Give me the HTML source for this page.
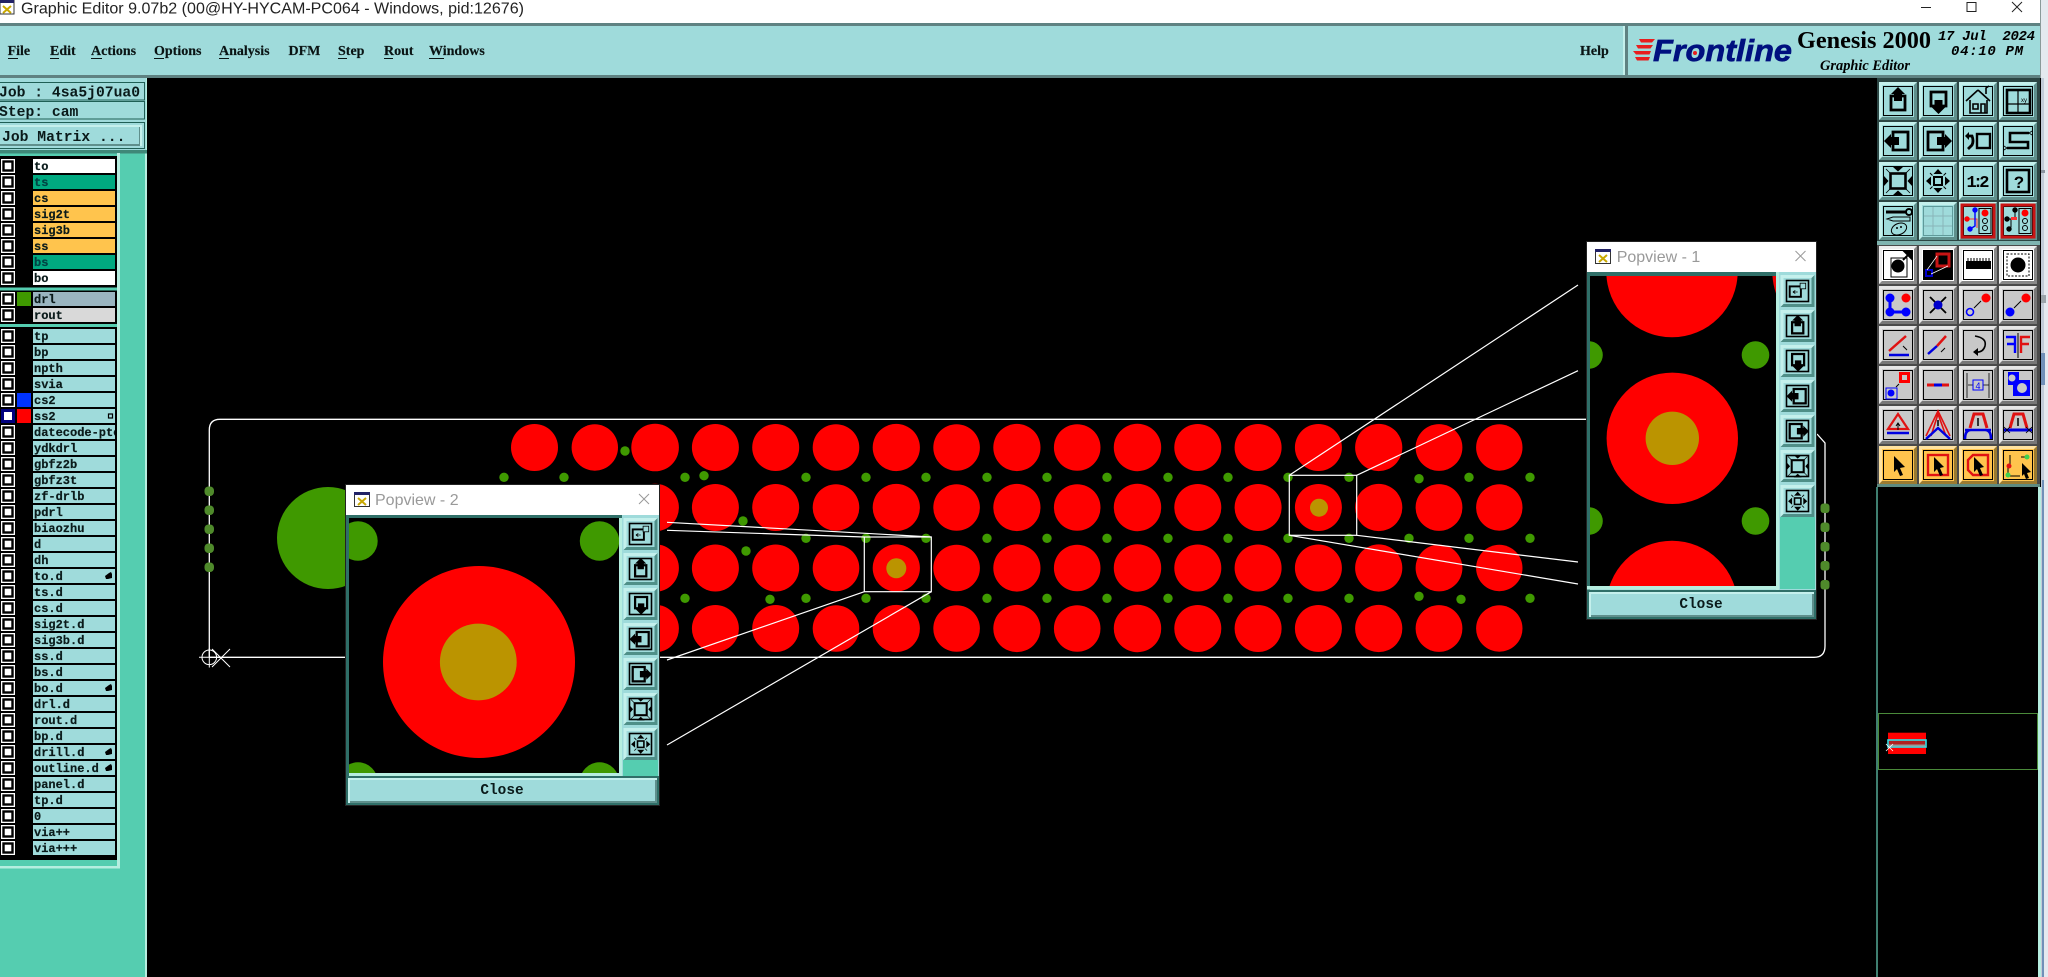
<!DOCTYPE html>
<html><head><meta charset="utf-8"><title>Graphic Editor</title>
<style>
html,body{margin:0;padding:0;background:#000;overflow:hidden}
svg{display:block}
.l{font:bold 12px "Liberation Mono",monospace;fill:#0a1a1a;stroke:#0a1a1a;stroke-width:.2}
.m{font:bold 14px "Liberation Serif",serif;fill:#0a1414;stroke:#0a1414;stroke-width:.15}
.j{font:bold 14.7px "Liberation Mono",monospace;fill:#0a1a1a}
.c{font:bold 14.4px "Liberation Mono",monospace;fill:#0a1a1a;text-anchor:middle}
.t{font:16px "Liberation Sans",sans-serif;fill:#999}
</style></head><body>
<svg xmlns="http://www.w3.org/2000/svg" width="2048" height="977" viewBox="0 0 2048 977">
<defs>
<g id="row"><rect x="1" y="0" width="14" height="14" fill="#fff"/><rect x="3.5" y="2.5" width="9" height="9" fill="#fff" stroke="#000" stroke-width="2.4"/><rect x="33" y="0" width="82" height="14" fill="#9fdbdb"/></g>
<g id="chk"><rect x="1" y="0" width="14" height="14" fill="#fff"/><rect x="3.5" y="2.5" width="9" height="9" fill="#fff" stroke="#000" stroke-width="2.4"/></g>
<g id="hand"><path d="M0 4 L4 1 L6 0 L7 2 L7 6 L3 7 L1 7Z" fill="#000"/></g>
<g id="reds" fill="#f00">
<circle cx="534.5" r="23.5"/><circle cx="594.8" r="23.2"/><circle cx="655.1" r="23.8"/><circle cx="715.4" r="23.5"/><circle cx="775.7" r="23.5"/><circle cx="836" r="23.3"/><circle cx="896.3" r="23.6"/><circle cx="956.6" r="23.3"/><circle cx="1016.9" r="23.6"/><circle cx="1077.2" r="23.3"/><circle cx="1137.5" r="23.7"/><circle cx="1197.8" r="23.5"/><circle cx="1258.1" r="23.5"/><circle cx="1318.4" r="23.5"/><circle cx="1378.7" r="23.6"/><circle cx="1439" r="23.4"/><circle cx="1499.3" r="23.2"/>
</g>
<g id="bt"><rect width="38" height="38" fill="#c4f0ec"/><path d="M38 0V38H0L3 35H35V3Z" fill="#5f8f8c"/><rect x="3" y="3" width="32" height="32" fill="#9fdbdb"/><rect x="4.5" y="4.5" width="29" height="29" fill="none" stroke="#000"/></g>
<g id="bg"><rect width="38" height="38" fill="#e6e6e6"/><path d="M38 0V38H0L3 35H35V3Z" fill="#777"/><rect x="3" y="3" width="32" height="32" fill="#c8c8c8"/><rect x="4.5" y="4.5" width="29" height="29" fill="none" stroke="#000"/></g>
<g id="bw"><rect width="38" height="38" fill="#eee"/><path d="M38 0V38H0L3 35H35V3Z" fill="#888"/><rect x="3" y="3" width="32" height="32" fill="#fff"/><rect x="4.5" y="4.5" width="29" height="29" fill="none" stroke="#000"/></g>
<g id="bo"><rect width="38" height="38" fill="#ffe2a0"/><path d="M38 0V38H0L3 35H35V3Z" fill="#9a7a30"/><rect x="3" y="3" width="32" height="32" fill="#ffc44d"/><rect x="4.5" y="4.5" width="29" height="29" fill="none" stroke="#000"/></g>
<g id="ps"><rect width="34" height="32" fill="#c4f0ec"/><path d="M34 0V32H0L3 29H31V3Z" fill="#4f8f88"/><rect x="3" y="3" width="28" height="26" fill="#9fdbdb"/><rect x="6" y="5.5" width="22" height="21" fill="none" stroke="#000" stroke-width="1.6"/></g>
<g id="iu"><path d="M12 14H26V28H12Z" fill="none" stroke="#000" stroke-width="2.8"/><path d="M19 5L26 12H23V19H15V12H12Z" fill="#000"/></g>
<g id="id"><path d="M12 10H27V24H12Z" fill="none" stroke="#000" stroke-width="2.8"/><path d="M15.5 18H23.5V25H26.5L19.5 32L12.5 25H15.5Z" fill="#000"/></g>
<g id="il"><path d="M14 10H29V28H14Z" fill="none" stroke="#000" stroke-width="2.8"/><path d="M5 19L12 12V15H20V23H12V26Z" fill="#000"/></g>
<g id="ir"><path d="M9 10H24V28H9Z" fill="none" stroke="#000" stroke-width="2.8"/><path d="M33 19L26 12V15H18V23H26V26Z" fill="#000"/></g>
<g id="ifit"><rect x="11.5" y="11.5" width="15" height="15" fill="none" stroke="#000" stroke-width="2.6"/><path d="M19 9.5L14 5H24ZM19 28.5L14 33H24ZM9.5 19L5 14V24ZM28.5 19L33 14V24Z" fill="#000"/><path d="M7 7L12 12M31 7L26 12M7 31L12 26M31 31L26 26" stroke="#000" stroke-width=".8"/></g>
<g id="ictr"><rect x="15" y="15" width="8" height="8" fill="none" stroke="#000" stroke-width="2"/><path d="M19 7L14.5 12H23.5ZM19 31L14.5 26H23.5ZM7 19L12 14.5V23.5ZM31 19L26 14.5V23.5Z" fill="#000"/><path d="M11 11L13.5 13.5M27 11L24.5 13.5M11 27L13.5 24.5M27 27L24.5 24.5" stroke="#000"/></g>
<g id="iw"><rect x="9" y="13" width="14" height="13" fill="none" stroke="#000" stroke-width="2.4"/><rect x="22" y="9" width="7" height="7" fill="#9fdbdb" stroke="#000"/><path d="M13 20H19M13 20L16 18M13 20L16 22" stroke="#000" fill="none"/></g>
</defs>

<rect width="2048" height="977" fill="#000"/>

<!-- PCB -->
<use href="#reds" y="447.5"/><use href="#reds" y="507.5"/><use href="#reds" y="568"/><use href="#reds" y="628.5"/>
<circle cx="896.3" cy="568.3" r="10" fill="#bb9400"/>
<circle cx="1319" cy="507.7" r="9" fill="#bb9400"/>
<circle cx="328" cy="538" r="51" fill="#3f9900"/>
<g fill="#3f9900">
<circle cx="504" cy="477.3" r="4.7"/><circle cx="564" cy="477.3" r="4.7"/><circle cx="625" cy="451" r="4.7"/><circle cx="685" cy="477.3" r="4.7"/><circle cx="704" cy="475.7" r="4.7"/><circle cx="806" cy="477.3" r="4.7"/><circle cx="866" cy="477.3" r="4.7"/><circle cx="926" cy="477.3" r="4.7"/><circle cx="987" cy="477.3" r="4.7"/><circle cx="1047" cy="477.3" r="4.7"/><circle cx="1107" cy="477.3" r="4.7"/><circle cx="1168" cy="477.3" r="4.7"/><circle cx="1228" cy="477.3" r="4.7"/><circle cx="1288" cy="477.3" r="4.7"/><circle cx="1349" cy="477.3" r="4.7"/><circle cx="1419" cy="478.7" r="4.7"/><circle cx="1469" cy="477.3" r="4.7"/><circle cx="1530" cy="477.3" r="4.7"/>
<circle cx="743" cy="521" r="4.7"/><circle cx="746" cy="551" r="4.7"/><circle cx="806" cy="538.3" r="4.7"/><circle cx="866" cy="538.3" r="4.7"/><circle cx="926" cy="538.3" r="4.7"/><circle cx="987" cy="538.3" r="4.7"/><circle cx="1047" cy="538.3" r="4.7"/><circle cx="1107" cy="538.3" r="4.7"/><circle cx="1168" cy="538.3" r="4.7"/><circle cx="1228" cy="538.3" r="4.7"/><circle cx="1288" cy="538.3" r="4.7"/><circle cx="1349" cy="538.3" r="4.7"/><circle cx="1409" cy="538.3" r="4.7"/><circle cx="1469" cy="538.3" r="4.7"/><circle cx="1530" cy="538.3" r="4.7"/>
<circle cx="685" cy="598.3" r="4.7"/><circle cx="770" cy="599.3" r="4.7"/><circle cx="806" cy="598.3" r="4.7"/><circle cx="866" cy="598.3" r="4.7"/><circle cx="926" cy="598.3" r="4.7"/><circle cx="987" cy="598.3" r="4.7"/><circle cx="1047" cy="598.3" r="4.7"/><circle cx="1107" cy="598.3" r="4.7"/><circle cx="1168" cy="598.3" r="4.7"/><circle cx="1228" cy="598.3" r="4.7"/><circle cx="1288" cy="598.3" r="4.7"/><circle cx="1349" cy="598.3" r="4.7"/><circle cx="1419" cy="596.3" r="4.7"/><circle cx="1461" cy="599.3" r="4.7"/><circle cx="1530" cy="598.3" r="4.7"/>
</g>
<!-- outline -->
<path d="M209.3 657.3V430Q209.3 419.3 220 419.3H1600M1817 434L1825 443V646Q1825 657.3 1814 657.3H209" fill="none" stroke="#fff" stroke-width="1.3"/>
<g fill="#4f8a2b">
<rect x="204.5" y="486.5" width="9.5" height="9.5" rx="4"/><rect x="204.5" y="505.5" width="9.5" height="9.5" rx="4"/><rect x="204.5" y="524.5" width="9.5" height="9.5" rx="4"/><rect x="204.5" y="543.5" width="9.5" height="9.5" rx="4"/><rect x="204.5" y="562.5" width="9.5" height="9.5" rx="4"/>
<rect x="1820.5" y="503.5" width="9" height="9.5" rx="3"/><rect x="1820.5" y="522.5" width="9" height="9.5" rx="3"/><rect x="1820.5" y="542" width="9" height="9.5" rx="3"/><rect x="1820.5" y="561" width="9" height="9.5" rx="3"/><rect x="1820.5" y="580" width="9" height="9.5" rx="3"/>
</g>
<!-- origin -->
<g stroke="#fff" fill="none" stroke-width="1"><circle cx="209.3" cy="657.3" r="7.3"/><path d="M199 657.3H220M209.3 648V667.5M212 649L230 667M212 667L230 649"/></g>
<!-- selections -->
<g stroke="#fff" fill="none" stroke-width="1.2">
<rect x="864.3" y="537" width="67" height="54.7"/>
<rect x="1289.3" y="475.3" width="67.4" height="60"/>
<path d="M667 522.3L931.3 537M667 530.3L864.3 537M667 660L864.3 591.7M667 745L931.3 591.7"/>
<path d="M1289.3 475.3L1578 285M1356.7 475.3L1578 370.7M1356.7 535.3L1578 562M1289.3 535.3L1578 584"/>
</g>

<!-- Title bar -->
<rect width="2048" height="23" fill="#fff"/>
<rect x="0" y="0" width="14" height="14" fill="#fff" stroke="#333"/><rect x="0" y="0" width="14" height="3" fill="#226"/><path d="M3 6L11 13M11 6L3 13" stroke="#c9a800" stroke-width="2"/>
<text x="21" y="13.5" font-family="Liberation Sans,sans-serif" font-size="16" fill="#222" textLength="503" lengthAdjust="spacingAndGlyphs">Graphic Editor 9.07b2 (00@HY-HYCAM-PC064 - Windows, pid:12676)</text>
<path d="M1921 7.5H1931" stroke="#222"/><rect x="1967" y="2.5" width="9" height="9" fill="none" stroke="#222"/><path d="M2012 2L2022 12M2022 2L2012 12" stroke="#222"/>

<!-- Menu -->
<rect y="23" width="2040" height="55" fill="#9fdbdb"/>
<rect y="23" width="2040" height="3" fill="#5f8282"/>
<rect y="75" width="2040" height="3" fill="#5f8282"/>
<rect x="1623" y="26" width="2" height="49" fill="#c4f0ec"/><rect x="1625" y="23" width="3" height="55" fill="#5f8282"/>
<text class="m" x="7.6" y="55">File</text><text class="m" x="50" y="55">Edit</text><text class="m" x="91" y="55">Actions</text><text class="m" x="154" y="55">Options</text><text class="m" x="219" y="55">Analysis</text><text class="m" x="288.5" y="55">DFM</text><text class="m" x="338" y="55">Step</text><text class="m" x="384" y="55">Rout</text><text class="m" x="429" y="55">Windows</text><text class="m" x="1580" y="55">Help</text>
<g fill="#0a1414"><rect x="8" y="58" width="10" height="1"/><rect x="50" y="58" width="9" height="1"/><rect x="91" y="58" width="11" height="1"/><rect x="154" y="58" width="10" height="1"/><rect x="219" y="58" width="10" height="1"/><rect x="338" y="58" width="9" height="1"/><rect x="384" y="58" width="9" height="1"/><rect x="429" y="58" width="15" height="1"/></g>

<!-- Logo -->
<path d="M1639 39H1655L1652 42.5H1641ZM1636 45H1653L1650.5 48.5H1638ZM1633 51H1651L1649.5 54.5H1636ZM1635 57H1650L1648.5 60.5H1637Z" fill="#e81e1e"/>
<text x="1653" y="61" font-family="Liberation Sans,sans-serif" font-size="31" font-weight="bold" font-style="italic" fill="#00107f" stroke="#00107f" stroke-width=".7" textLength="139" lengthAdjust="spacingAndGlyphs">Frontline</text>
<circle cx="1695" cy="53" r="2" fill="#e81e1e"/>
<text x="1797" y="48" font-family="Liberation Serif,serif" font-size="24" font-weight="bold" fill="#000" textLength="134" lengthAdjust="spacingAndGlyphs">Genesis 2000</text>
<text x="1820" y="70" font-family="Liberation Serif,serif" font-size="15" font-weight="bold" font-style="italic" fill="#000" textLength="90" lengthAdjust="spacingAndGlyphs">Graphic Editor</text>
<text x="1938" y="40" font-family="Liberation Mono,monospace" font-size="14" font-weight="bold" font-style="italic" fill="#000" textLength="97" xml:space="preserve">17 Jul  2024</text>
<text x="1951" y="55" font-family="Liberation Mono,monospace" font-size="14" font-weight="bold" font-style="italic" fill="#000" textLength="72" xml:space="preserve">04:10 PM</text>

<!-- Left panel -->
<rect y="78" width="146" height="899" fill="#55cdb0"/><rect x="145" y="78" width="2" height="899" fill="#b6eee0"/>
<rect y="78" width="146" height="72" fill="#9fdbdb"/>
<rect x="-2" y="82.5" width="146.5" height="17.5" fill="#9fdbdb" stroke="#1f5f55"/>
<rect x="-2" y="101.5" width="146.5" height="17.5" fill="#9fdbdb" stroke="#1f5f55"/>
<rect x="-2" y="122.5" width="146.5" height="26" fill="#9fdbdb" stroke="#1f5f55"/>
<rect x="-2" y="125" width="144" height="21" fill="#c4f0ec"/><rect x="-2" y="127" width="142" height="19" fill="#5f8f8c"/><rect x="-2" y="127" width="141" height="17" fill="#9fdbdb"/>
<rect y="150" width="147" height="3.5" fill="#3f8878"/>
<text class="j" x="-1" y="96.5">Job : 4sa5j07ua0</text>
<text class="j" x="-1" y="116">Step: cam</text>
<text class="j" x="2" y="141">Job Matrix ...</text>

<rect y="156" width="117" height="704" fill="#000"/>
<rect x="117" y="153" width="3" height="714" fill="#b6eee0"/><rect y="866" width="120" height="2.5" fill="#b6eee0"/>
<rect y="287.5" width="117" height="3" fill="#55cdb0"/><rect y="324" width="117" height="3" fill="#55cdb0"/>

<!-- Layers -->
<g transform="translate(0,159)"><use href="#chk"/><rect x="33" width="82" height="14" fill="#fff"/><text class="l" x="34" y="11">to</text></g>
<g transform="translate(0,175)"><use href="#chk"/><rect x="33" width="82" height="14" fill="#00a980"/><text class="l" x="34" y="11" style="fill:#044;stroke:#044">ts</text></g>
<g transform="translate(0,191)"><use href="#chk"/><rect x="33" width="82" height="14" fill="#ffc44d"/><text class="l" x="34" y="11">cs</text></g>
<g transform="translate(0,207)"><use href="#chk"/><rect x="33" width="82" height="14" fill="#ffc44d"/><text class="l" x="34" y="11">sig2t</text></g>
<g transform="translate(0,223)"><use href="#chk"/><rect x="33" width="82" height="14" fill="#ffc44d"/><text class="l" x="34" y="11">sig3b</text></g>
<g transform="translate(0,239)"><use href="#chk"/><rect x="33" width="82" height="14" fill="#ffc44d"/><text class="l" x="34" y="11">ss</text></g>
<g transform="translate(0,255)"><use href="#chk"/><rect x="33" width="82" height="14" fill="#00a980"/><text class="l" x="34" y="11" style="fill:#044;stroke:#044">bs</text></g>
<g transform="translate(0,271)"><use href="#chk"/><rect x="33" width="82" height="14" fill="#fff"/><text class="l" x="34" y="11">bo</text></g>
<g transform="translate(0,292)"><use href="#chk"/><rect x="17" width="14" height="14" fill="#3f9900"/><rect x="33" width="82" height="14" fill="#9ab5c0"/><text class="l" x="34" y="11">drl</text></g>
<g transform="translate(0,308)"><use href="#chk"/><rect x="33" width="82" height="14" fill="#d9d9d9"/><text class="l" x="34" y="11">rout</text></g>
<g transform="translate(0,329)"><use href="#row"/><text class="l" x="34" y="11">tp</text></g>
<g transform="translate(0,345)"><use href="#row"/><text class="l" x="34" y="11">bp</text></g>
<g transform="translate(0,361)"><use href="#row"/><text class="l" x="34" y="11">npth</text></g>
<g transform="translate(0,377)"><use href="#row"/><text class="l" x="34" y="11">svia</text></g>
<g transform="translate(0,393)"><use href="#row"/><rect x="17" width="14" height="14" fill="#0033ff"/><text class="l" x="34" y="11">cs2</text></g>
<g transform="translate(0,409)"><rect x="1" width="14" height="14" fill="#00007f"/><rect x="4" y="3" width="8" height="8" fill="#fff"/><rect x="33" width="82" height="14" fill="#9fdbdb"/><rect x="17" width="14" height="14" fill="#f00"/><text class="l" x="34" y="11">ss2</text><rect x="108.5" y="5" width="4" height="4" fill="none" stroke="#000" stroke-width="1.2"/></g>
<g transform="translate(0,425)"><use href="#row"/><text class="l" x="34" y="11">datecode-pte</text></g>
<rect x="115" y="425" width="2" height="14" fill="#000"/><rect x="117" y="425" width="3" height="14" fill="#b6eee0"/><rect x="120" y="425" width="4" height="14" fill="#55cdb0"/>
<g transform="translate(0,441)"><use href="#row"/><text class="l" x="34" y="11">ydkdrl</text></g>
<g transform="translate(0,457)"><use href="#row"/><text class="l" x="34" y="11">gbfz2b</text></g>
<g transform="translate(0,473)"><use href="#row"/><text class="l" x="34" y="11">gbfz3t</text></g>
<g transform="translate(0,489)"><use href="#row"/><text class="l" x="34" y="11">zf-drlb</text></g>
<g transform="translate(0,505)"><use href="#row"/><text class="l" x="34" y="11">pdrl</text></g>
<g transform="translate(0,521)"><use href="#row"/><text class="l" x="34" y="11">biaozhu</text></g>
<g transform="translate(0,537)"><use href="#row"/><text class="l" x="34" y="11">d</text></g>
<g transform="translate(0,553)"><use href="#row"/><text class="l" x="34" y="11">dh</text></g>
<g transform="translate(0,569)"><use href="#row"/><text class="l" x="34" y="11">to.d</text><use href="#hand" x="105" y="3"/></g>
<g transform="translate(0,585)"><use href="#row"/><text class="l" x="34" y="11">ts.d</text></g>
<g transform="translate(0,601)"><use href="#row"/><text class="l" x="34" y="11">cs.d</text></g>
<g transform="translate(0,617)"><use href="#row"/><text class="l" x="34" y="11">sig2t.d</text></g>
<g transform="translate(0,633)"><use href="#row"/><text class="l" x="34" y="11">sig3b.d</text></g>
<g transform="translate(0,649)"><use href="#row"/><text class="l" x="34" y="11">ss.d</text></g>
<g transform="translate(0,665)"><use href="#row"/><text class="l" x="34" y="11">bs.d</text></g>
<g transform="translate(0,681)"><use href="#row"/><text class="l" x="34" y="11">bo.d</text><use href="#hand" x="105" y="3"/></g>
<g transform="translate(0,697)"><use href="#row"/><text class="l" x="34" y="11">drl.d</text></g>
<g transform="translate(0,713)"><use href="#row"/><text class="l" x="34" y="11">rout.d</text></g>
<g transform="translate(0,729)"><use href="#row"/><text class="l" x="34" y="11">bp.d</text></g>
<g transform="translate(0,745)"><use href="#row"/><text class="l" x="34" y="11">drill.d</text><use href="#hand" x="105" y="3"/></g>
<g transform="translate(0,761)"><use href="#row"/><text class="l" x="34" y="11">outline.d</text><use href="#hand" x="105" y="3"/></g>
<g transform="translate(0,777)"><use href="#row"/><text class="l" x="34" y="11">panel.d</text></g>
<g transform="translate(0,793)"><use href="#row"/><text class="l" x="34" y="11">tp.d</text></g>
<g transform="translate(0,809)"><use href="#row"/><text class="l" x="34" y="11">0</text></g>
<g transform="translate(0,825)"><use href="#row"/><text class="l" x="34" y="11">via++</text></g>
<g transform="translate(0,841)"><use href="#row"/><text class="l" x="34" y="11">via+++</text></g>

<!-- Right strip -->
<rect x="2041" y="0" width="7" height="977" fill="#e4e9ef"/>
<rect x="2041" y="78" width="3" height="899" fill="#c2ccd8"/>
<rect x="2040" y="0" width="1" height="78" fill="#8a9a9a"/>
<rect x="2041" y="170" width="4" height="3" fill="#8a94a0"/><rect x="2041" y="295" width="5" height="8" fill="#9aa4aa"/>
<rect x="2041" y="353" width="4" height="32" fill="#7090b8"/>
<rect x="2042" y="480" width="2" height="497" fill="#7090b8"/>
<rect x="1876" y="487" width="2" height="490" fill="#3f7f70"/><rect x="2038" y="487" width="3" height="490" fill="#b6eee0"/>
<rect x="1878.5" y="713.5" width="159" height="56" fill="none" stroke="#4a8a3a"/>
<rect x="1888" y="732.7" width="38" height="21.3" fill="#f00"/>
<rect x="1888" y="740" width="38" height="7" fill="#b02020" stroke="#2fe0e8" stroke-width="1.6"/>
<rect x="1889" y="744.5" width="36" height="2" fill="#999"/>
<path d="M1886 744L1893 751M1893 744L1886 751" stroke="#fff" stroke-width=".8"/>

<!-- Toolbar -->
<rect x="1877" y="78" width="163" height="165" fill="#2c4644"/>
<rect x="1877" y="241" width="163" height="4" fill="#7fb4b0"/>
<rect x="1877" y="245" width="163" height="242" fill="#4a4a4a"/>
<rect x="1877" y="484" width="163" height="3" fill="#5e8a80"/>

<g transform="translate(1879,82)"><use href="#bt"/><use href="#iu"/></g>
<g transform="translate(1919,82)"><use href="#bt"/><use href="#id"/></g>
<g transform="translate(1959,82)"><use href="#bt"/><path d="M19 8L7 19M19 8L31 19M11 18V31H28V18M14 22H19V27H14ZM22 22H26V31H22ZM27 12V6L30 4" fill="none" stroke="#000" stroke-width="1.6"/></g>
<g transform="translate(1999,82)"><use href="#bt"/><rect x="8" y="8" width="23" height="23" fill="none" stroke="#000" stroke-width="2.6"/><path d="M8 22H31M19 8V31" stroke="#000" stroke-width="1.2"/><text x="25" y="20" font-size="6" text-anchor="middle" font-family="Liberation Sans,sans-serif">xy</text></g>
<g transform="translate(1879,122)"><use href="#bt"/><use href="#il"/></g>
<g transform="translate(1919,122)"><use href="#bt"/><use href="#ir"/></g>
<g transform="translate(1959,122)"><use href="#bt"/><rect x="18" y="12" width="13" height="14" fill="none" stroke="#000" stroke-width="2.4"/><path d="M8 14H13Q15 19 13 23L9 27" fill="none" stroke="#000" stroke-width="2.8"/><path d="M6 14L10 10V18Z" fill="#000"/></g>
<g transform="translate(1999,122)"><use href="#bt"/><path d="M30 11H11V20H29V26H8" fill="none" stroke="#000" stroke-width="2.6"/><path d="M33 9L30 11L33 13M5 24L8 26L5 28" fill="none" stroke="#000" stroke-width=".8"/></g>
<g transform="translate(1879,162)"><use href="#bt"/><use href="#ifit"/></g>
<g transform="translate(1919,162)"><use href="#bt"/><use href="#ictr"/></g>
<g transform="translate(1959,162)"><use href="#bt"/><text x="19" y="25" font-family="Liberation Mono,monospace" font-size="17" font-weight="bold" text-anchor="middle" textLength="23">1:2</text></g>
<g transform="translate(1999,162)"><use href="#bt"/><rect x="8" y="8" width="22" height="22" fill="none" stroke="#000" stroke-width="2.6"/><text x="20" y="26" font-family="Liberation Sans,sans-serif" font-size="17" font-weight="bold" text-anchor="middle">?</text></g>
<g transform="translate(1879,202)"><use href="#bt"/><path d="M7 10H28" stroke="#000" stroke-width="3"/><circle cx="30" cy="10" r="3" fill="none" stroke="#000" stroke-width="2"/><path d="M8 17L14 15H31V19H14Z" fill="none" stroke="#000"/><ellipse cx="20" cy="27" rx="8" ry="5.5" fill="none" stroke="#000" transform="rotate(-25 20 27)"/><circle cx="18" cy="26" r="1"/><circle cx="22" cy="25" r="1"/></g>
<g transform="translate(1919,202)"><use href="#bt"/><rect x="4.5" y="4.5" width="29" height="29" fill="#9fdbdb" stroke="#5f9a9a"/><path d="M14 5V33M24 5V33M5 14H33M5 24H33" stroke="#8ab4b8"/></g>
<g transform="translate(1959,202)"><use href="#bt"/><rect x="3" y="3" width="32" height="32" fill="none" stroke="#c81414" stroke-width="3"/><rect x="20" y="6.5" width="12" height="25" fill="none" stroke="#000"/><circle cx="26" cy="11" r="3.5" fill="#f00"/><circle cx="26" cy="19" r="2.5" fill="none" stroke="#000"/><circle cx="26" cy="26" r="2.5" fill="none" stroke="#000"/><path d="M8 17H18V26" fill="none" stroke="#f33"/><path d="M16 8V24L11 27" fill="none" stroke="#00f" stroke-width="1.4"/><circle cx="8" cy="17" r="2.7" fill="#f00"/><circle cx="16" cy="8" r="2.7" fill="#00f"/><circle cx="11" cy="27" r="2.7" fill="#00f"/></g>
<g transform="translate(1999,202)"><use href="#bt"/><rect x="3" y="3" width="32" height="32" fill="none" stroke="#c81414" stroke-width="3"/><rect x="20" y="6.5" width="12" height="25" fill="none" stroke="#000"/><circle cx="26" cy="11" r="3.5" fill="#f00"/><circle cx="26" cy="19" r="2.5" fill="none" stroke="#000"/><circle cx="26" cy="26" r="2.5" fill="none" stroke="#000"/><path d="M8 17H12V25L9 27M16 8V16" fill="none" stroke="#000"/><circle cx="8" cy="17" r="2.7"/><circle cx="16" cy="8" r="2.7"/><circle cx="10" cy="27" r="2.7"/><path d="M12 15H18V18H12Z" fill="#f33"/></g>

<g transform="translate(1879,246)"><use href="#bw"/><rect x="12" y="12" width="16" height="19" fill="none" stroke="#000"/><circle cx="19" cy="20" r="6.5"/><path d="M24 14L31 7M26 6H33V13Z" stroke="#000" stroke-width="2"/></g>
<g transform="translate(1919,246)"><use href="#bw"/><rect x="5" y="5" width="28" height="28" fill="#000"/><rect x="18" y="8" width="12" height="12" fill="none" stroke="#c81414" stroke-width="3"/><rect x="7" y="24" width="6" height="6" fill="none" stroke="#00c" stroke-width="2"/><path d="M8 24L18 10M12 28L29 20" stroke="#fff" stroke-width=".7"/></g>
<g transform="translate(1959,246)"><use href="#bw"/><rect x="7" y="15" width="25" height="8" fill="#000"/><path d="M9 15V12M12 15V12M15 15V12M18 15V12M21 15V12M24 15V12M27 15V12M30 15V12" stroke="#000"/></g>
<g transform="translate(1999,246)"><use href="#bw"/><rect x="8" y="8" width="22" height="22" fill="none" stroke="#000" stroke-dasharray="2 1.5"/><circle cx="19" cy="19" r="7.5"/></g>

<g transform="translate(1879,286)"><use href="#bg"/><path d="M11 12V26H27" fill="none" stroke="#00f" stroke-width="3"/><circle cx="11" cy="12" r="4.5" fill="#00f"/><circle cx="11" cy="26" r="4.5" fill="#00f"/><circle cx="27" cy="26" r="4.5" fill="#00f"/><circle cx="27" cy="12" r="4.5" fill="#f00"/></g>
<g transform="translate(1919,286)"><use href="#bg"/><path d="M11 11L27 27M27 11L11 27" stroke="#000" stroke-width="1.8"/><circle cx="19" cy="19" r="4.5" fill="#00c"/></g>
<g transform="translate(1959,286)"><use href="#bg"/><circle cx="27" cy="12" r="4.5" fill="#f00"/><circle cx="11" cy="26" r="3.5" fill="none" stroke="#00f" stroke-width="1.6"/><path d="M15 22L22 15" stroke="#000"/></g>
<g transform="translate(1999,286)"><use href="#bg"/><circle cx="27" cy="12" r="4.5" fill="#f00"/><circle cx="11" cy="26" r="4.5" fill="#00f"/><path d="M15 22L22 15" stroke="#000"/></g>

<g transform="translate(1879,326)"><use href="#bg"/><path d="M10 25L27 10" stroke="#e01212" stroke-width="2.5"/><path d="M10 29H30" stroke="#0000e0" stroke-width="2.5"/><path d="M24 20L28 24" stroke="#000"/></g>
<g transform="translate(1919,326)"><use href="#bg"/><path d="M9 28L18 20" stroke="#0000e0" stroke-width="2.5"/><path d="M18 20L27 10" stroke="#e01212" stroke-width="2.5"/><path d="M22 26L26 22" stroke="#000"/></g>
<g transform="translate(1959,326)"><use href="#bg"/><path d="M16 10Q28 12 26 20Q24 27 16 26" fill="none" stroke="#000" stroke-width="1.6"/><path d="M14 26L19 22V30Z" fill="#000"/></g>
<g transform="translate(1999,326)"><use href="#bg"/><path d="M19 7V32" stroke="#000"/><path d="M7 11H16V27M8 18H16" fill="none" stroke="#00f" stroke-width="2.4"/><path d="M31 11H22V27M30 18H22" fill="none" stroke="#e01212" stroke-width="2.4"/></g>

<g transform="translate(1879,366)"><use href="#bg"/><rect x="20" y="6" width="11" height="11" fill="#f00"/><rect x="23" y="9" width="5" height="5" fill="#c8c8c8"/><rect x="7" y="22" width="11" height="11" fill="none" stroke="#00f"/><circle cx="12" cy="27" r="3.5" fill="#00f"/><path d="M17 21L20 18" stroke="#000"/></g>
<g transform="translate(1919,366)"><use href="#bg"/><path d="M8 19H30" stroke="#e01212" stroke-width="3"/><path d="M15 19H23" stroke="#0000e0" stroke-width="3"/></g>
<g transform="translate(1959,366)"><use href="#bg"/><path d="M8 7V32M30 7V32M9 19H30" stroke="#000" stroke-width=".8"/><rect x="14" y="14" width="10" height="10" fill="#c8c8c8" stroke="#00f"/><text x="19" y="23" font-size="9" text-anchor="middle" fill="#00f" font-family="Liberation Sans,sans-serif">4</text></g>
<g transform="translate(1999,366)"><use href="#bg"/><path d="M9 6H20V14H31V30H14V19H9Z" fill="#00f"/><circle cx="13" cy="12" r="3.5" fill="#c8c8c8"/><circle cx="23" cy="22" r="5" fill="#c8c8c8"/></g>

<g transform="translate(1879,406)"><use href="#bg"/><path d="M19 8L29 23H9Z" fill="none" stroke="#e01212" stroke-width="2.2"/><path d="M8 27H30" stroke="#0000e0" stroke-width="2.4"/><path d="M19 24V18M17 20L19 17L21 20" stroke="#000" fill="none"/></g>
<g transform="translate(1919,406)"><use href="#bg"/><path d="M7 30L19 5L31 30M12 30L19 8L27 30" fill="none" stroke="#e01212" stroke-width="1.6"/><path d="M7 33L19 22L31 33" fill="none" stroke="#0000e0" stroke-width="2.4"/><path d="M19 20V14" stroke="#000" stroke-width="1.5"/></g>
<g transform="translate(1959,406)"><use href="#bg"/><path d="M11 22L15 8H24L28 22" fill="none" stroke="#e01212" stroke-width="3"/><path d="M6 24H32M6 33Q6 24 12 24M32 33Q32 24 26 24" fill="none" stroke="#0000e0" stroke-width="2.6"/><path d="M19 20V12" stroke="#000" stroke-width="1.5"/></g>
<g transform="translate(1999,406)"><use href="#bg"/><path d="M11 22L15 8H24L28 22" fill="none" stroke="#e01212" stroke-width="3"/><path d="M5 24H33" fill="none" stroke="#0000e0" stroke-width="3"/><path d="M5 21L11 27M11 21L5 27M27 21L33 27M33 21L27 27" stroke="#000" stroke-width=".8"/><path d="M19 20V12" stroke="#000" stroke-width="1.5"/></g>

<g transform="translate(1879,446)"><use href="#bo"/><path d="M15 10L26 21L21 22L24 29L21 30L18 23L15 26Z"/></g>
<g transform="translate(1919,446)"><use href="#bo"/><rect x="9" y="9" width="20" height="20" fill="none" stroke="#e01212" stroke-width="2.4"/><path d="M15 11L25 21L21 22L24 29L21 30L18 23L15 26Z"/></g>
<g transform="translate(1959,446)"><use href="#bo"/><path d="M14 9H29V29H14L9 24V14Z" fill="none" stroke="#e01212" stroke-width="2.4"/><path d="M15 11L25 21L21 22L24 29L21 30L18 23L15 26Z"/></g>
<g transform="translate(1999,446)"><use href="#bo"/><path d="M11 9V19L9 20V30H21M22 11H28" stroke="#000" fill="none"/><circle cx="10" cy="20" r="2.5" fill="#e01212"/><circle cx="9" cy="29" r="2.5" fill="#3fd24f"/><circle cx="28" cy="11" r="2.5" fill="#3fd24f"/><path d="M23 17L32 26L28 27L30 32L27 33L25 28L23 30Z"/></g>

<!-- Popview 2 -->
<rect x="345.5" y="484.5" width="314" height="321" fill="#9fdbdb" stroke="#222"/>
<rect x="346" y="485" width="313" height="30" fill="#fff"/>
<rect x="346" y="515" width="276" height="3" fill="#2f6f68"/><rect x="346" y="515" width="3" height="261" fill="#2f6f68"/>
<svg x="349" y="518" width="270" height="255" viewBox="349 518 270 255">
<rect x="349" y="518" width="270" height="255" fill="#000"/>
<circle cx="358" cy="541" r="19.7" fill="#3f9900"/><circle cx="599.5" cy="541" r="19.7" fill="#3f9900"/><circle cx="358" cy="782" r="19.7" fill="#3f9900"/><circle cx="599.5" cy="782" r="19.7" fill="#3f9900"/>
<circle cx="479" cy="662" r="96" fill="#f00"/><circle cx="478.3" cy="662" r="38.4" fill="#bb9400"/>
</svg>
<rect x="619" y="518" width="3" height="258" fill="#b6eee0"/><rect x="349" y="773" width="273" height="3" fill="#b6eee0"/>
<rect x="623" y="760" width="35" height="16" fill="#55cdb0"/>
<g transform="translate(623.5,518)"><use href="#ps"/><g transform="translate(2,1) scale(.8)"><use href="#iw"/></g></g>
<g transform="translate(623.5,553)"><use href="#ps"/><g transform="translate(2,1) scale(.8)"><use href="#iu"/></g></g>
<g transform="translate(623.5,588)"><use href="#ps"/><g transform="translate(2,1) scale(.8)"><use href="#id"/></g></g>
<g transform="translate(623.5,623)"><use href="#ps"/><g transform="translate(2,1) scale(.8)"><use href="#il"/></g></g>
<g transform="translate(623.5,658)"><use href="#ps"/><g transform="translate(2,1) scale(.8)"><use href="#ir"/></g></g>
<g transform="translate(623.5,693)"><use href="#ps"/><g transform="translate(2,1) scale(.8)"><use href="#ifit"/></g></g>
<g transform="translate(623.5,728)"><use href="#ps"/><g transform="translate(2,1) scale(.8)"><use href="#ictr"/></g></g>
<rect x="346" y="776" width="313" height="29" fill="#2f6f68"/>
<rect x="348" y="778" width="309" height="25" fill="#c4f0ec"/><rect x="350" y="780" width="307" height="23" fill="#5f8f8c"/><rect x="350" y="780" width="305" height="21" fill="#9fdbdb"/>
<text class="c" x="502" y="794">Close</text>
<rect x="354.5" y="492.5" width="15" height="14" fill="#fff" stroke="#333"/><rect x="354" y="492" width="16" height="3" fill="#226"/><path d="M358 498L366 505M366 498L358 505" stroke="#c9a800" stroke-width="2"/>
<text class="t" x="375" y="505">Popview - 2</text>
<path d="M639 494L649 504M649 494L639 504" stroke="#999"/>

<!-- Popview 1 -->
<rect x="1586.5" y="241.5" width="230" height="378" fill="#9fdbdb" stroke="#222"/>
<rect x="1587" y="242" width="229" height="30" fill="#fff"/>
<rect x="1587" y="272" width="192" height="4" fill="#2f6f68"/><rect x="1587" y="272" width="3" height="318" fill="#2f6f68"/>
<svg x="1590" y="276" width="186" height="310" viewBox="1590 276 186 310">
<rect x="1590" y="276" width="186" height="310" fill="#000"/>
<circle cx="1672" cy="271.6" r="65.7" fill="#f00"/><circle cx="1672" cy="606.4" r="65.7" fill="#f00"/>
<circle cx="1838" cy="271.6" r="65.7" fill="#e00"/>
<circle cx="1672.3" cy="438.3" r="65.7" fill="#f00"/><circle cx="1672.3" cy="438.3" r="26.7" fill="#bb9400"/>
<circle cx="1589" cy="355" r="13.8" fill="#3f9900"/><circle cx="1589" cy="521" r="13.8" fill="#3f9900"/><circle cx="1755.5" cy="355" r="13.8" fill="#3f9900"/><circle cx="1755.5" cy="521" r="13.8" fill="#3f9900"/>
</svg>
<rect x="1776" y="272" width="3" height="318" fill="#b6eee0"/><rect x="1587" y="586" width="192" height="3.5" fill="#b6eee0"/>
<rect x="1780" y="517" width="35" height="72" fill="#55cdb0"/>
<g transform="translate(1780.5,275)"><use href="#ps"/><g transform="translate(2,1) scale(.8)"><use href="#iw"/></g></g>
<g transform="translate(1780.5,310)"><use href="#ps"/><g transform="translate(2,1) scale(.8)"><use href="#iu"/></g></g>
<g transform="translate(1780.5,345)"><use href="#ps"/><g transform="translate(2,1) scale(.8)"><use href="#id"/></g></g>
<g transform="translate(1780.5,380)"><use href="#ps"/><g transform="translate(2,1) scale(.8)"><use href="#il"/></g></g>
<g transform="translate(1780.5,415)"><use href="#ps"/><g transform="translate(2,1) scale(.8)"><use href="#ir"/></g></g>
<g transform="translate(1780.5,450)"><use href="#ps"/><g transform="translate(2,1) scale(.8)"><use href="#ifit"/></g></g>
<g transform="translate(1780.5,485)"><use href="#ps"/><g transform="translate(2,1) scale(.8)"><use href="#ictr"/></g></g>
<rect x="1587" y="590" width="229" height="29" fill="#2f6f68"/>
<rect x="1589" y="592" width="225" height="25" fill="#c4f0ec"/><rect x="1591" y="594" width="223" height="23" fill="#5f8f8c"/><rect x="1591" y="594" width="221" height="21" fill="#9fdbdb"/>
<text class="c" x="1701" y="608">Close</text>
<rect x="1595.5" y="249.5" width="15" height="14" fill="#fff" stroke="#333"/><rect x="1595" y="249" width="16" height="3" fill="#226"/><path d="M1599 255L1607 262M1607 255L1599 262" stroke="#c9a800" stroke-width="2"/>
<text class="t" x="1616.7" y="262">Popview - 1</text>
<path d="M1795.5 251L1805.5 261M1805.5 251L1795.5 261" stroke="#999"/>
</svg>
</body></html>
